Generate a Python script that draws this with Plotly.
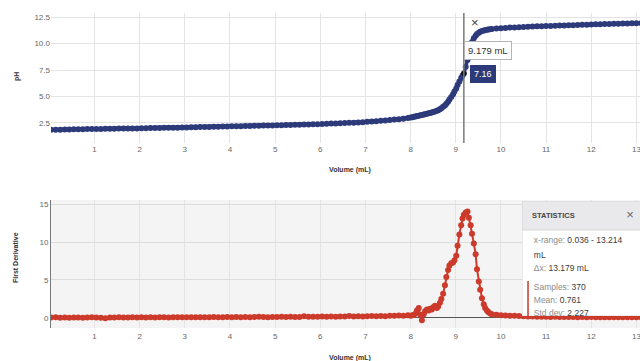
import plotly.graph_objects as go

# ---------------- data ----------------
vol_acid = [0.036, 0.14, 0.24, 0.34, 0.44, 0.54, 0.64, 0.74, 0.84, 0.94,
            1.04, 1.14, 1.24, 1.34, 1.44, 1.54, 1.64, 1.74, 1.84, 1.94,
            2.04, 2.14, 2.24, 2.34, 2.44, 2.54, 2.64, 2.74, 2.84, 2.94,
            3.04, 3.14, 3.24, 3.34, 3.44, 3.54, 3.64, 3.74, 3.84, 3.94,
            4.04, 4.14, 4.24, 4.34, 4.44, 4.54, 4.64, 4.74, 4.84, 4.94,
            5.04, 5.14, 5.24, 5.34, 5.44, 5.54, 5.64, 5.74, 5.84, 5.94,
            6.04, 6.14, 6.24, 6.34, 6.44, 6.54, 6.64, 6.74, 6.84, 6.94,
            7.04, 7.14, 7.24, 7.34, 7.44, 7.54, 7.64, 7.74, 7.84, 7.94]
ph_acid = [1.85, 1.86, 1.87, 1.88, 1.89, 1.90, 1.91, 1.91, 1.92, 1.93,
           1.93, 1.94, 1.95, 1.95, 1.96, 1.97, 1.97, 1.98, 1.99, 1.99,
           2.00, 2.01, 2.02, 2.02, 2.03, 2.04, 2.05, 2.06, 2.06, 2.07,
           2.08, 2.09, 2.10, 2.11, 2.12, 2.13, 2.14, 2.15, 2.16, 2.17,
           2.18, 2.19, 2.20, 2.21, 2.22, 2.23, 2.24, 2.25, 2.26, 2.27,
           2.28, 2.29, 2.30, 2.31, 2.33, 2.34, 2.35, 2.36, 2.38, 2.39,
           2.41, 2.42, 2.44, 2.45, 2.47, 2.49, 2.51, 2.53, 2.55, 2.57,
           2.61, 2.64, 2.67, 2.70, 2.74, 2.78, 2.82, 2.86, 2.91, 2.97]
d1_acid = [0.05, 0.08, 0.04, 0.06, 0.03, 0.07, 0.05, 0.04, 0.06, 0.08,
           0.05, 0.03, -0.05, 0.07, 0.06, 0.08, 0.05, 0.07, 0.09, 0.06,
           0.08, 0.07, 0.09, 0.06, 0.10, 0.08, 0.07, 0.09, 0.10, 0.08,
           0.09, 0.10, 0.08, 0.11, 0.09, 0.10, 0.12, 0.10, 0.11, 0.13,
           0.10, 0.14, 0.11, 0.12, 0.10, 0.13, 0.15, 0.12, 0.11, 0.14,
           0.13, 0.15, 0.12, 0.16, 0.14, 0.13, 0.24, 0.15, 0.17, 0.16,
           0.18, 0.16, 0.20, 0.17, 0.19, 0.21, 0.26, 0.20, 0.22, 0.21,
           0.23, 0.25, 0.22, 0.27, 0.24, 0.30, 0.28, 0.32, 0.30, 0.35]

vol_jump = [8.00, 8.04, 8.07, 8.11, 8.14, 8.18, 8.22, 8.25, 8.29, 8.32,
            8.36, 8.40, 8.43, 8.47, 8.50, 8.54, 8.58, 8.61, 8.65, 8.68,
            8.72, 8.76, 8.79, 8.83, 8.86, 8.90, 8.94, 8.97, 9.01, 9.04,
            9.08, 9.12, 9.15, 9.179, 9.22, 9.26, 9.29, 9.33, 9.36, 9.40,
            9.44, 9.47, 9.51, 9.54, 9.58, 9.62, 9.65, 9.69, 9.72, 9.76, 9.80]
ph_jump = [3.02, 3.05, 3.08, 3.11, 3.15, 3.19, 3.22, 3.25, 3.29, 3.33,
           3.37, 3.41, 3.45, 3.49, 3.54, 3.59, 3.65, 3.71, 3.79, 3.90,
           4.02, 4.16, 4.32, 4.50, 4.72, 4.96, 5.22, 5.48, 5.76, 6.08,
           6.42, 6.75, 6.98, 7.16, 7.80, 8.45, 9.10, 9.70, 10.15, 10.50,
           10.74, 10.90, 11.02, 11.10, 11.17, 11.22, 11.26, 11.29, 11.32, 11.35, 11.37]
d1_jump = [0.30, 0.35, 0.40, 0.60, 1.00, 1.30, 0.40, -0.30, 0.50, 0.90,
           1.10, 1.00, 1.20, 1.10, 1.40, 1.60, 1.30, 1.50, 2.00, 2.50,
           3.20, 4.30, 5.40, 6.30, 6.90, 7.20, 7.30, 7.60, 8.20, 9.50,
           11.0, 12.2, 13.1, 13.6, 13.9, 14.0, 13.2, 12.2, 11.1, 9.80,
           8.40, 6.40, 4.80, 3.70, 2.60, 1.80, 1.30, 1.00, 0.80, 0.60, 0.50]

vol_base = [9.90, 10.0, 10.1, 10.2, 10.3, 10.4, 10.5, 10.6, 10.7, 10.8,
            10.9, 11.0, 11.1, 11.2, 11.3, 11.4, 11.5, 11.6, 11.7, 11.8,
            11.9, 12.0, 12.1, 12.2, 12.3, 12.4, 12.5, 12.6, 12.7, 12.8,
            12.9, 13.0, 13.1, 13.214]
ph_base = [11.41, 11.44, 11.47, 11.50, 11.52, 11.54, 11.56, 11.58, 11.60, 11.62,
           11.63, 11.65, 11.66, 11.68, 11.69, 11.71, 11.72, 11.73, 11.75, 11.76,
           11.78, 11.80, 11.81, 11.82, 11.83, 11.85, 11.86, 11.87, 11.88, 11.89,
           11.91, 11.92, 11.93, 11.94]
d1_base = [0.42, 0.36, 0.33, 0.30, 0.28, 0.27, 0.22, 0.18, 0.20, 0.16,
           0.15, 0.17, 0.14, 0.15, 0.13, 0.14, 0.12, 0.13, 0.11, 0.12,
           0.10, 0.12, 0.10, 0.11, 0.09, 0.10, 0.08, 0.10, 0.09, 0.08,
           0.10, 0.09, 0.08, 0.09]

volume = vol_acid + vol_jump + vol_base
ph = ph_acid + ph_jump + ph_base
first_derivative = d1_acid + d1_jump + d1_base

x_ticks = [1, 2, 3, 4, 5, 6, 7, 8, 9, 10, 11, 12, 13]
ph_ticks = [2.5, 5.0, 7.5, 10.0, 12.5]
d1_ticks = [0, 5, 10, 15]

cursor_volume = 9.179
stats_rows = [
    ("x-range:", "0.036 - 13.214"),
    ("", "mL"),
    ("Δx:", "13.179 mL"),
    ("Samples:", "370"),
    ("Mean:", "0.761"),
    ("Std dev:", "2.227"),
]

# ---------------- styling ----------------
NAVY = "#2c3a7a"
RED = "#cc3a2b"
FONT = "Liberation Sans, Arial, sans-serif"
W, H, L = 640, 361, 51
PW = W - L


def px_x(p):
    return (p - L) / PW


def px_y(p):
    return 1 - p / H


cur_i = volume.index(cursor_volume)

fig = go.Figure()
fig.add_trace(go.Scatter(x=volume, y=ph, mode="lines+markers",
                         line=dict(color=NAVY, width=3.5),
                         marker=dict(color=NAVY, size=6),
                         hoverinfo="skip", xaxis="x", yaxis="y"))
fig.add_trace(go.Scatter(x=[volume[cur_i]], y=[ph[cur_i]], mode="markers",
                         marker=dict(color="#111111", size=5),
                         hoverinfo="skip", xaxis="x", yaxis="y"))
fig.add_trace(go.Scatter(x=volume, y=first_derivative, mode="lines+markers",
                         line=dict(color=RED, width=2),
                         marker=dict(color=RED, size=6),
                         hoverinfo="skip", xaxis="x2", yaxis="y2"))

# statistics panel text (own hidden subplot so the last row is clipped)
row_y = [0.652, 0.522, 0.409, 0.243, 0.130, 0.017]
row_text = []
for lab, val in stats_rows:
    if lab:
        row_text.append(f'<span style="color:#8c8c8c">{lab}</span> {val}')
    else:
        row_text.append(val)
fig.add_trace(go.Scatter(x=[0.10] * len(row_y), y=row_y, text=row_text,
                         mode="text", textposition="middle right",
                         textfont=dict(family=FONT, size=8.5, color="#3a3a3a"),
                         cliponaxis=True, hoverinfo="skip",
                         xaxis="x3", yaxis="y3"))
fig.add_trace(go.Scatter(x=[0.085], y=[0.87], text=["<b>STATISTICS</b>"],
                         mode="text", textposition="middle right",
                         textfont=dict(family=FONT, size=7.5, color="#444444"),
                         cliponaxis=True, hoverinfo="skip",
                         xaxis="x3", yaxis="y3"))
fig.add_trace(go.Scatter(x=[0.915], y=[0.87], text=["×"],
                         mode="text", textposition="middle center",
                         textfont=dict(family=FONT, size=13, color="#666666"),
                         cliponaxis=True, hoverinfo="skip",
                         xaxis="x3", yaxis="y3"))

tickfont = dict(family=FONT, size=8, color="#666666")
grid = "#e4e4e4"
xcommon = dict(range=[0.036, 13.08], tickvals=x_ticks, showgrid=True,
               gridcolor=grid, zeroline=False, showline=False,
               ticklabeloverflow="allow",
               tickfont=tickfont, domain=[0, 1], fixedrange=True)

fig.update_layout(
    width=W, height=H,
    margin=dict(l=L, r=0, t=0, b=0),
    paper_bgcolor="white", plot_bgcolor="white",
    showlegend=False,
    font=dict(family=FONT),
    xaxis=dict(anchor="y", **xcommon),
    yaxis=dict(anchor="x", domain=[px_y(143), px_y(13)], range=[0.61, 12.88],
               tickvals=ph_ticks, tickformat=".1f", showgrid=True,
               gridcolor=grid, zeroline=False, showline=False,
               tickfont=tickfont, fixedrange=True),
    xaxis2=dict(anchor="y2", ticklabelstandoff=2, **xcommon),
    yaxis2=dict(anchor="x2", domain=[px_y(328), px_y(200)], range=[-1.32, 15.53],
                tickvals=d1_ticks, showgrid=True, gridcolor="#dcdcdc",
                zeroline=True, zerolinecolor="#555555", zerolinewidth=1,
                showline=True, linecolor="#777777", linewidth=1,
                tickfont=tickfont, fixedrange=True),
    xaxis3=dict(anchor="y3", domain=[px_x(522), 1], range=[0, 1],
                visible=False, fixedrange=True),
    yaxis3=dict(anchor="x3", domain=[px_y(316), px_y(201)], range=[0, 1],
                visible=False, fixedrange=True),
)

shapes = [
    # bottom plot background
    dict(type="rect", xref="x2 domain", yref="y2 domain", x0=0, x1=1, y0=0, y1=1,
         fillcolor="#f4f4f4", line=dict(width=0), layer="below"),
    # cursor line in the pH plot
    dict(type="line", xref="x", yref="y domain", x0=cursor_volume, x1=cursor_volume,
         y0=0, y1=1, line=dict(color="#7a7a7a", width=1.5), layer="above"),
    # statistics panel
    dict(type="rect", xref="x3", yref="y3", x0=0, x1=1.2, y0=0, y1=1,
         fillcolor="white", line=dict(color="#d6d6d6", width=1), layer="below"),
    dict(type="rect", xref="x3", yref="y3", x0=0, x1=1.2, y0=0.748, y1=1,
         fillcolor="#e9e9ec", line=dict(color="#d6d6d6", width=1), layer="below"),
    dict(type="line", xref="x3", yref="y3", x0=0.051, x1=0.051, y0=0, y1=0.304,
         line=dict(color=RED, width=1.5), layer="below"),
]

title_font = dict(family=FONT, size=7, color="#333333")
ttl = dict(xref="paper", yref="paper", showarrow=False, font=title_font,
           xanchor="center", yanchor="middle")
annotations = [
    dict(text="<b>pH</b>", x=px_x(17), y=px_y(77), textangle=-90, **ttl),
    dict(text="<b>Volume (mL)</b>", x=px_x(350), y=px_y(170), **ttl),
    dict(text="<b>First Derivative</b>", x=px_x(15), y=px_y(258), textangle=-90, **ttl),
    dict(text="<b>Volume (mL)</b>", x=px_x(350), y=px_y(358), **ttl),
    # cursor tooltip
    dict(text=f"{cursor_volume:.3f} mL", x=cursor_volume, y=9.38, xref="x", yref="y",
         xanchor="left", yanchor="middle", showarrow=False,
         bgcolor="white", bordercolor="#b5b5b5", borderwidth=1, borderpad=3,
         font=dict(family=FONT, size=9.5, color="#333333")),
    dict(text=f"{ph[cur_i]:.2f}", x=cursor_volume, y=ph[cur_i], xref="x", yref="y",
         xanchor="left", yanchor="middle", xshift=6, showarrow=False,
         bgcolor=NAVY, bordercolor=NAVY, borderwidth=1, borderpad=3,
         font=dict(family=FONT, size=9, color="white")),
    dict(text="×", x=cursor_volume, y=11.96, xref="x", yref="y", xshift=11,
         showarrow=False, font=dict(family=FONT, size=13, color="#444444")),
]
fig.update_layout(shapes=shapes, annotations=annotations)

fig.write_html(
    "out.html",
    config={"displayModeBar": False},
    post_script="document.body.style.margin='0';document.body.style.overflow='hidden';",
)
